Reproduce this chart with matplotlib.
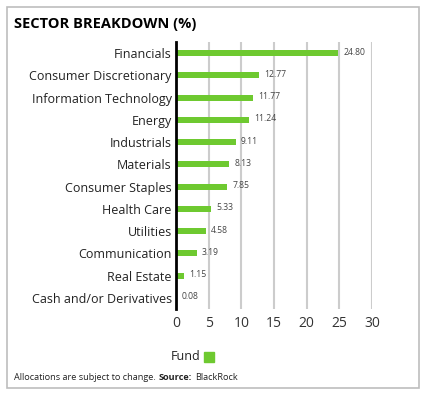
import matplotlib.pyplot as plt
from matplotlib.patches import Rectangle

plt.rcParams.update({
    "font.family": "Open Sans",
    "font.size": 9,
})

sectors = ["Financials", "Consumer Discretionary", "Information Technology",
           "Energy", "Industrials", "Materials", "Consumer Staples",
           "Health Care", "Utilities", "Communication", "Real Estate",
           "Cash and/or Derivatives"]
fund = [24.80, 12.77, 11.77, 11.24, 9.11, 8.13, 7.85, 5.33, 4.58, 3.19, 1.15, 0.08]
xticks = [0, 5, 10, 15, 20, 25, 30]

GREEN = "#6ec930"

fig = plt.figure(figsize=(4.25, 3.94), dpi=100)
W, H = 425, 394

# outer frame
fig.patches.append(Rectangle((7 / W, 1 - 388 / H), 412 / W, 381 / H,
                             transform=fig.transFigure, fill=False,
                             ec="#bdbdbd", lw=1.2))

fig.text(14 / W, 1 - 24 / H, "SECTOR BREAKDOWN (%)", fontsize=10.5,
         fontweight="bold", va="center", ha="left", color="black")

ax = fig.add_axes([176 / W, 1 - 309 / H, 196 / W, 267 / H])
y = list(range(len(sectors)))
ax.barh(y, fund, height=0.28, color=GREEN, zorder=3)
for yi, v in zip(y, fund):
    ax.text(v + 0.8, yi - 0.05, f"{v:.2f}", fontsize=6.2, color="#444444",
            va="center", ha="left", zorder=4)

ax.set_yticks(y)
ax.set_yticklabels(sectors, fontsize=9, color="#222222")
ax.set_ylim(len(sectors) - 0.5, -0.5)
ax.set_xlim(0, 30)
ax.set_xticks(xticks)
ax.set_xticklabels([str(t) for t in xticks], fontsize=10, color="#333333")
ax.tick_params(axis="both", length=0, pad=3)
ax.tick_params(axis="x", pad=5)
ax.grid(axis="x", color="#cccccc", lw=1.5, zorder=0)
for s in ["top", "right", "bottom"]:
    ax.spines[s].set_visible(False)
ax.spines["left"].set_linewidth(2)
ax.spines["left"].set_color("black")
ax.spines["left"].set_zorder(5)

# legend
fig.text(201 / W, 1 - 357 / H, "Fund", fontsize=9, ha="right", va="center",
         color="#222222")
fig.patches.append(Rectangle((204 / W, 1 - 362 / H), 10 / W, 10 / H,
                             transform=fig.transFigure, color=GREEN))

# footnote, pieces chained one after another
fig.canvas.draw()
renderer = fig.canvas.get_renderer()
x = 14 / W
for txt, wt in [("Allocations are subject to change.", "normal"),
                ("Source:", "bold"), ("BlackRock", "normal")]:
    t = fig.text(x, 1 - 377 / H, txt, fontsize=6.6, fontweight=wt,
                 ha="left", va="center", color="#222222")
    bb = t.get_window_extent(renderer)
    x = bb.x1 / W + 3 / W

fig.savefig("out.png", dpi=100)
